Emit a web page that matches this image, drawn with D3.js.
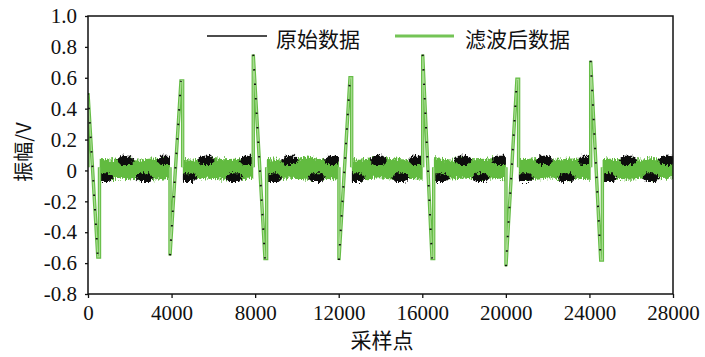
<!DOCTYPE html>
<html>
<head>
<meta charset="utf-8">
<script src="https://cdn.jsdelivr.net/npm/d3@7/dist/d3.min.js"></script>
<style>
  body { margin: 0; background: #fff; }
  svg { display: block; }
</style>
</head>
<body>
<svg id="chart" width="705" height="357"></svg>
<script>
// tick values
var xTicks = [0, 4000, 8000, 12000, 16000, 20000, 24000, 28000];
var yTicks = [-0.8, -0.6, -0.4, -0.2, 0, 0.2, 0.4, 0.6, 0.8, 1.0];

// pulses: start sample, end sample, first extreme, second extreme
var pulseStart  = [0, 3925, 7910, 12010, 16020, 20005, 24060];
var pulseEnd    = [470, 4450, 8470, 12540, 16465, 20530, 24540];
var pulseFirst  = [0.50, -0.55, 0.75, -0.58, 0.75, -0.62, 0.71];
var pulseSecond = [-0.56, 0.58, -0.57, 0.60, -0.57, 0.59, -0.58];

// filtered band envelope, one value every 500 samples
var bandHigh = [0.070,0.075,0.070,0.080,0.075,0.070,0.078,0.072,0.080,0.075,
                0.070,0.076,0.080,0.072,0.075,0.070,0.082,0.075,0.070,0.078,
                0.072,0.090,0.075,0.070,0.080,0.074,0.070,0.078,0.075,0.080,
                0.072,0.070,0.076,0.080,0.074,0.070,0.078,0.072,0.075,0.080,
                0.070,0.076,0.074,0.080,0.072,0.070,0.078,0.075,0.070,0.080,
                0.075,0.072,0.078,0.070,0.080,0.075,0.078];
var bandLow  = [-0.050,-0.055,-0.060,-0.052,-0.058,-0.050,-0.056,-0.060,-0.052,-0.055,
                -0.058,-0.050,-0.055,-0.060,-0.052,-0.056,-0.050,-0.058,-0.062,-0.052,
                -0.055,-0.060,-0.050,-0.056,-0.058,-0.052,-0.060,-0.055,-0.050,-0.058,
                -0.052,-0.056,-0.060,-0.050,-0.055,-0.058,-0.052,-0.060,-0.055,-0.050,
                -0.058,-0.052,-0.056,-0.060,-0.050,-0.055,-0.058,-0.052,-0.060,-0.055,
                -0.050,-0.056,-0.060,-0.052,-0.058,-0.055,-0.050];

// raw data wander: centres of bumps above and below the band
var rawTopX    = [1800, 3700, 5650, 7650, 9650, 11700, 13900, 15750, 17950, 19750, 21850, 23850, 25850, 27700];
var rawBottomX = [800, 2700, 4800, 7000, 8850, 10950, 12850, 14950, 16900, 18800, 20900, 22900, 24900, 26950];

var svg = d3.select("#chart"),
    width = +svg.attr("width"),
    height = +svg.attr("height");

var mLeft = 88, mRight = 673, mTop = 16, mBottom = 294;

var x = d3.scaleLinear().domain([0, 28000]).range([mLeft, mRight]);
var y = d3.scaleLinear().domain([-0.8, 1.0]).range([mBottom, mTop]);

var serif = "'Liberation Serif', 'Times New Roman', serif";
var cjk = "'Noto Sans CJK SC', sans-serif";

var defs = svg.append("defs");

// rough edges for the noisy band (vertical jitter only)
function roughFilter(id, freq, seed, scale) {
    var f = defs.append("filter")
        .attr("id", id)
        .attr("filterUnits", "userSpaceOnUse")
        .attr("x", 0).attr("y", 0).attr("width", width).attr("height", height);
    f.append("feTurbulence")
        .attr("type", "fractalNoise")
        .attr("baseFrequency", freq)
        .attr("numOctaves", 2)
        .attr("seed", seed)
        .attr("result", "noise");
    f.append("feColorMatrix")
        .attr("in", "noise")
        .attr("type", "matrix")
        .attr("values", "0 0 0 0 0.5  0 1 0 0 0  0 0 1 0 0  0 0 0 0 1")
        .attr("result", "noiseY");
    f.append("feDisplacementMap")
        .attr("in", "SourceGraphic")
        .attr("in2", "noiseY")
        .attr("scale", scale)
        .attr("xChannelSelector", "R")
        .attr("yChannelSelector", "G");
}
roughFilter("rough", "0.9 0.2", 4, 9);
roughFilter("rough2", "0.6 0.3", 11, 8);

// mask out pulse regions from the band
var mask = defs.append("mask").attr("id", "gaps")
    .attr("maskUnits", "userSpaceOnUse")
    .attr("x", 0).attr("y", 0).attr("width", width).attr("height", height);
mask.append("rect").attr("x", mLeft).attr("y", 0).attr("width", mRight - mLeft).attr("height", height).attr("fill", "white");
mask.selectAll("rect.gap")
    .data(pulseStart)
    .enter()
    .append("rect")
    .attr("class", "gap")
    .attr("x", function (d, i) { return i == 0 ? 0 : x(d); })
    .attr("width", function (d, i) { return x(pulseEnd[i] + 90) - (i == 0 ? 0 : x(d)); })
    .attr("y", 0)
    .attr("height", height)
    .attr("fill", "black");

var clip = defs.append("clipPath").attr("id", "plotclip");
clip.append("rect").attr("x", mLeft).attr("y", mTop).attr("width", mRight - mLeft).attr("height", mBottom - mTop);

var plot = svg.append("g").attr("clip-path", "url(#plotclip)");

// green band
var bandData = bandHigh.map(function (h, i) { return { s: i * 500, hi: h, lo: bandLow[i] }; });
var area = d3.area()
    .x(function (d) { return x(d.s); })
    .y0(function (d) { return y(d.lo); })
    .y1(function (d) { return y(d.hi); });

var bandG = plot.append("g").attr("mask", "url(#gaps)");
bandG.append("path")
    .datum(bandData)
    .attr("d", area)
    .attr("fill", "#62bb40")
    .attr("filter", "url(#rough)");

// black raw-data bumps over the band edges
function bump(c, lo, hi) {
    var w = 440;
    var mid = (lo + hi) / 2;
    return [[c - w, mid], [c - w / 2, hi], [c + w / 2, hi], [c + w, mid], [c + w / 2, lo], [c - w / 2, lo]];
}
var bumps = rawTopX.map(function (c) { return bump(c, 0.035, 0.095); })
    .concat(rawBottomX.map(function (c) { return bump(c, -0.075, -0.018); }));
var bumpLine = d3.line().x(function (d) { return x(d[0]); }).y(function (d) { return y(d[1]); });
bandG.append("g")
    .attr("filter", "url(#rough2)")
    .selectAll("path")
    .data(bumps)
    .enter()
    .append("path")
    .attr("d", function (d) { return bumpLine(d) + "Z"; })
    .attr("fill", "#111");

// pulses
var pulses = pulseStart.map(function (s, i) {
    return [[s, 0.02], [s, pulseFirst[i]], [pulseEnd[i], pulseSecond[i]],
            [pulseEnd[i] + 80, pulseSecond[i]], [pulseEnd[i] + 80, 0.02]];
});
plot.selectAll("path.pulseOuter")
    .data(pulses)
    .enter()
    .append("path")
    .attr("class", "pulseOuter")
    .attr("d", bumpLine)
    .attr("fill", "none")
    .attr("stroke", "#66bd47")
    .attr("stroke-width", 3.4);
plot.selectAll("path.pulseInner")
    .data(pulses)
    .enter()
    .append("path")
    .attr("class", "pulseInner")
    .attr("d", bumpLine)
    .attr("fill", "none")
    .attr("stroke", "#a9dc92")
    .attr("stroke-width", 1.2);
// sparse raw samples along the slopes
plot.selectAll("path.raw")
    .data(pulses)
    .enter()
    .append("path")
    .attr("class", "raw")
    .attr("d", function (d) { return bumpLine([d[1], d[2]]); })
    .attr("fill", "none")
    .attr("stroke", "#111")
    .attr("stroke-width", 2)
    .attr("stroke-dasharray", "1.5,13");

// frame
svg.append("rect")
    .attr("x", mLeft).attr("y", mTop)
    .attr("width", mRight - mLeft).attr("height", mBottom - mTop)
    .attr("fill", "none")
    .attr("stroke", "#111")
    .attr("stroke-width", 1.5);

// axes
var yAxis = d3.axisLeft(y)
    .tickValues(yTicks)
    .tickSize(3)
    .tickPadding(8)
    .tickFormat(function (d) { return d == 0 ? "0" : d.toFixed(1); });
var gy = svg.append("g").attr("transform", "translate(" + mLeft + ",0)").call(yAxis);
gy.attr("font-family", serif).attr("font-size", 21);
gy.select(".domain").remove();
gy.selectAll("line").attr("stroke", "#111").attr("stroke-width", 1.3);
gy.selectAll("text").style("font-family", serif).attr("fill", "#111");

var xAxis = d3.axisBottom(x)
    .tickValues(xTicks)
    .tickSize(4)
    .tickPadding(7)
    .tickFormat(d3.format("d"));
var gx = svg.append("g").attr("transform", "translate(0," + mBottom + ")").call(xAxis);
gx.attr("font-family", serif).attr("font-size", 21);
gx.select(".domain").remove();
gx.selectAll("line").attr("stroke", "#111").attr("stroke-width", 1.3);
gx.selectAll("text").style("font-family", serif).attr("fill", "#111");

// axis titles
svg.append("text")
    .attr("transform", "translate(22,152) rotate(-90)")
    .attr("text-anchor", "middle")
    .attr("dominant-baseline", "central")
    .attr("font-family", cjk)
    .attr("font-size", 20)
    .attr("fill", "#111")
    .text("振幅/V");
svg.append("text")
    .attr("x", 382).attr("y", 339)
    .attr("text-anchor", "middle")
    .attr("dominant-baseline", "central")
    .attr("font-family", cjk)
    .attr("font-size", 21)
    .attr("fill", "#111")
    .text("采样点");

// legend
var legendItems = [
    { name: "原始数据", color: "#111", w: 1.5, x1: 207, x2: 267, tx: 276 },
    { name: "滤波后数据", color: "#74c456", w: 3, x1: 395, x2: 454, tx: 465 }
];
var lg = svg.append("g").selectAll("g").data(legendItems).enter().append("g");
lg.append("line")
    .attr("x1", function (d) { return d.x1; })
    .attr("x2", function (d) { return d.x2; })
    .attr("y1", 36).attr("y2", 36)
    .attr("stroke", function (d) { return d.color; })
    .attr("stroke-width", function (d) { return d.w; });
lg.append("text")
    .attr("x", function (d) { return d.tx; })
    .attr("y", 38)
    .attr("dominant-baseline", "central")
    .attr("font-family", cjk)
    .attr("font-size", 21)
    .attr("fill", "#111")
    .text(function (d) { return d.name; });
</script>
</body>
</html>
